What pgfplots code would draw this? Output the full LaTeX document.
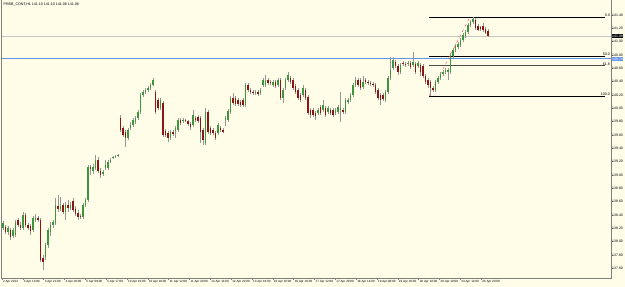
\documentclass[border=0pt]{standalone}
\usepackage{pgfplots}
\usepackage{pgfplotstable}
\pgfplotsset{compat=1.18}
\usepackage{fontspec}
\setmainfont{Liberation Sans}
\definecolor{bg}{RGB}{255,253,232}
\definecolor{bull}{RGB}{60,150,60}
\definecolor{bear}{RGB}{140,22,22}
\definecolor{wick}{RGB}{150,150,150}
\definecolor{fibblue}{RGB}{100,149,237}
\definecolor{axgray}{RGB}{128,128,128}

\pgfplotstableread{
i o h l c
0 138.205 138.310 138.175 138.280
1 138.220 138.250 138.115 138.145
2 138.145 138.235 138.100 138.205
3 138.175 138.205 138.025 138.070
4 138.085 138.205 138.055 138.175
5 138.100 138.325 138.070 138.295
6 138.325 138.355 138.220 138.250
7 138.250 138.295 138.175 138.205
8 138.205 138.445 138.175 138.400
9 138.400 138.430 138.220 138.250
10 138.250 138.280 138.175 138.205
11 138.235 138.265 138.100 138.160
12 138.175 138.385 138.145 138.355
13 138.325 138.415 138.295 138.355
14 138.355 138.385 138.295 138.325
15 138.325 138.355 137.695 137.725
16 137.755 137.800 137.575 137.695
17 137.770 137.980 137.725 137.950
18 137.950 138.205 137.905 138.175
19 138.145 138.295 138.085 138.250
20 138.250 138.325 138.205 138.295
21 138.280 138.655 138.250 138.550
22 138.535 138.700 138.445 138.490
23 138.490 138.670 138.460 138.535
24 138.550 138.580 138.415 138.445
25 138.445 138.595 138.325 138.550
26 138.550 138.625 138.445 138.505
27 138.505 138.595 138.475 138.550
28 138.610 138.655 138.445 138.475
29 138.490 138.535 138.385 138.415
30 138.430 138.475 138.325 138.370
31 138.385 138.415 138.340 138.370
32 138.370 138.580 138.340 138.550
33 138.550 138.655 138.520 138.625
34 138.625 139.150 138.595 139.120
35 139.120 139.150 139.000 139.090
36 139.060 139.165 139.015 139.120
37 139.105 139.300 139.075 139.225
38 139.225 139.270 139.030 139.060
39 139.060 139.105 138.955 139.000
40 139.015 139.075 138.985 139.045
41 139.105 139.225 139.075 139.150
42 139.105 139.225 139.075 139.195
43 139.195 139.255 139.180 139.225
44 139.255 139.285 139.240 139.270
45 139.270 139.300 139.255 139.285
46 139.285 139.315 139.270 139.300
47 139.855 139.900 139.645 139.675
48 139.705 139.735 139.570 139.600
49 139.645 139.675 139.420 139.555
50 139.555 139.705 139.525 139.675
51 139.705 139.795 139.675 139.750
52 139.750 139.855 139.720 139.825
53 139.795 139.885 139.765 139.855
54 139.855 139.975 139.825 139.945
55 139.945 140.230 139.915 140.200
56 140.200 140.275 140.170 140.245
57 140.245 140.305 140.215 140.275
58 140.275 140.335 140.245 140.305
59 140.305 140.380 140.275 140.350
60 140.350 140.455 140.335 140.425
61 140.245 140.275 139.915 139.945
62 140.125 140.155 139.975 140.005
63 140.005 140.155 139.975 140.125
64 140.080 140.110 139.570 139.600
65 139.660 139.690 139.570 139.600
66 139.630 139.660 139.495 139.555
67 139.555 139.675 139.525 139.645
68 139.645 139.675 139.585 139.615
69 139.660 139.735 139.555 139.705
70 139.675 139.855 139.645 139.825
71 139.825 139.855 139.750 139.780
72 139.810 139.855 139.780 139.825
73 139.825 139.840 139.795 139.810
74 139.810 139.825 139.735 139.765
75 139.765 139.795 139.675 139.720
76 139.750 139.975 139.720 139.900
77 139.855 139.885 139.795 139.825
78 139.870 139.900 139.780 139.810
79 139.855 139.885 139.480 139.645
80 139.675 139.705 139.450 139.525
81 139.480 140.005 139.450 139.945
82 139.945 139.975 139.615 139.645
83 139.705 139.735 139.600 139.630
84 139.675 139.705 139.600 139.630
85 139.630 139.660 139.525 139.555
86 139.630 139.780 139.600 139.750
87 139.705 139.735 139.645 139.675
88 139.675 139.705 139.630 139.645
89 139.825 139.885 139.735 139.855
90 139.825 139.990 139.795 139.960
91 139.945 140.185 139.915 140.155
92 140.155 140.230 140.050 140.080
93 140.155 140.185 140.035 140.065
94 140.125 140.155 140.035 140.065
95 140.095 140.125 140.020 140.050
96 140.125 140.155 140.020 140.050
97 140.050 140.380 140.020 140.350
98 140.350 140.380 140.245 140.275
99 140.275 140.305 140.215 140.245
100 140.245 140.275 140.200 140.230
101 140.230 140.275 140.200 140.245
102 140.245 140.275 140.185 140.215
103 140.230 140.305 140.200 140.275
104 140.350 140.455 140.320 140.425
105 140.350 140.500 140.320 140.425
106 140.425 140.455 140.350 140.380
107 140.395 140.425 140.350 140.380
108 140.350 140.425 140.320 140.395
109 140.395 140.425 140.305 140.335
110 140.350 140.455 140.320 140.425
111 140.425 140.455 140.125 140.155
112 140.155 140.305 140.080 140.275
113 140.305 140.455 140.275 140.425
114 140.425 140.545 140.395 140.500
115 140.455 140.485 140.365 140.395
116 140.425 140.455 140.275 140.305
117 140.335 140.365 140.215 140.245
118 140.275 140.305 140.125 140.155
119 140.200 140.230 140.095 140.125
120 140.200 140.350 140.170 140.305
121 140.275 140.305 140.125 140.155
122 140.170 140.200 139.900 139.930
123 139.975 140.005 139.855 139.900
124 139.975 140.005 139.870 139.900
125 139.930 139.960 139.825 139.885
126 139.930 140.005 139.900 139.975
127 140.020 140.050 139.900 139.930
128 139.975 140.125 139.945 140.050
129 140.005 140.035 139.870 139.900
130 139.945 140.035 139.915 140.005
131 139.975 140.005 139.900 139.930
132 139.975 140.005 139.870 139.900
133 139.930 140.005 139.900 139.975
134 139.945 140.050 139.915 140.020
135 139.975 140.245 139.795 140.005
136 139.975 140.005 139.915 139.945
137 139.945 140.155 139.915 140.125
138 140.095 140.155 140.065 140.125
139 140.125 140.230 140.095 140.200
140 140.200 140.380 140.170 140.350
141 140.350 140.470 140.320 140.425
142 140.425 140.455 140.320 140.350
143 140.425 140.455 140.275 140.305
144 140.320 140.485 140.290 140.395
145 140.425 140.455 140.365 140.395
146 140.395 140.425 140.350 140.380
147 140.380 140.410 140.335 140.365
148 140.365 140.395 140.320 140.350
149 140.350 140.380 140.215 140.245
150 140.275 140.305 140.125 140.155
151 140.200 140.230 140.050 140.125
152 140.200 140.230 140.110 140.140
153 140.125 140.275 140.095 140.245
154 140.245 140.485 140.215 140.455
155 140.455 140.770 140.425 140.575
156 140.605 140.770 140.575 140.725
157 140.695 140.725 140.605 140.635
158 140.635 140.665 140.500 140.545
159 140.545 140.680 140.515 140.650
160 140.680 140.710 140.635 140.665
161 140.665 140.695 140.620 140.650
162 140.665 140.710 140.635 140.680
163 140.680 140.710 140.590 140.620
164 140.650 140.845 140.620 140.695
165 140.665 140.695 140.515 140.545
166 140.635 140.710 140.605 140.680
167 140.650 140.680 140.485 140.545
168 140.635 140.665 140.455 140.485
169 140.485 140.515 140.365 140.395
170 140.425 140.455 140.305 140.350
171 140.395 140.425 140.185 140.305
172 140.305 140.335 140.245 140.275
173 140.275 140.425 140.245 140.395
174 140.395 140.485 140.365 140.455
175 140.455 140.545 140.425 140.515
176 140.515 140.575 140.485 140.545
177 140.545 140.605 140.515 140.575
178 140.545 140.605 140.425 140.575
179 140.545 140.830 140.515 140.800
180 140.785 140.905 140.755 140.875
181 140.875 140.965 140.845 140.935
182 140.920 140.995 140.890 140.965
183 140.950 141.055 140.920 141.025
184 141.025 141.130 140.995 141.100
185 141.085 141.175 141.055 141.145
186 141.145 141.280 141.115 141.250
187 141.250 141.325 141.220 141.295
188 141.295 141.370 141.265 141.340
189 141.325 141.355 141.175 141.205
190 141.235 141.265 141.160 141.175
191 141.220 141.235 141.160 141.190
192 141.235 141.280 141.145 141.175
193 141.190 141.220 141.115 141.130
194 141.160 141.190 141.070 141.085
}\candles

\begin{document}
\begin{tikzpicture}
\useasboundingbox (0,0) rectangle (625pt,287pt);
\fill[bg] (0,0) rectangle (625pt,287pt);
\begin{axis}[
  at={(1.5pt,9pt)}, anchor=south west,
  scale only axis, width=609.5pt, height=276pt,
  xmin=-0.6, xmax=243.2, ymin=137.455, ymax=141.595,
  clip=false,
  axis line style={draw=none},
  /pgf/number format/assume math mode=true,
  ytick={137.6,137.8,138.0,138.2,138.4,138.6,138.8,139.0,139.2,139.4,139.6,139.8,140.0,140.2,140.4,140.6,140.8,141.0,141.2,141.4},
  yticklabel pos=right, ytick pos=right,
  yticklabel style={font=\fontsize{3.5}{4}\selectfont, anchor=west, inner sep=0pt, xshift=-1pt,
     /pgf/number format/.cd, fixed, fixed zerofill, precision=2, 1000 sep={}},
  xtick={-0.4,7.93,16.27,24.6,32.93,41.27,49.6,57.93,66.27,74.6,82.93,91.27,99.6,107.93,116.27,124.6,132.93,141.27,149.6,157.93,166.27,174.6,182.93,191.27},
  xticklabels={2 Apr 2012,3 Apr 13:00,3 Apr 21:00,4 Apr 18:00,5 Apr 09:00,5 Apr 17:00,10 Apr 10:00,10 Apr 18:00,11 Apr 12:00,11 Apr 20:00,12 Apr 14:00,12 Apr 22:00,13 Apr 16:00,16 Apr 10:00,16 Apr 18:00,17 Apr 12:00,17 Apr 20:00,18 Apr 14:00,19 Apr 08:00,19 Apr 16:00,20 Apr 10:00,20 Apr 18:00,23 Apr 12:00,23 Apr 20:00},
  xtick pos=bottom,
  xticklabel style={font=\fontsize{3.05}{4}\selectfont, anchor=north west, inner sep=0.4pt, xshift=0.5pt, yshift=0.5pt},
  tick align=outside, major tick length=2pt,
  tick style={axgray, line width=0.4pt},
]
% current price line and horizontal blue line
\addplot[gray!45, line width=0.5pt, forget plot] coordinates {(-0.6,141.085) (243.2,141.085)};
\addplot[fibblue, line width=1.0pt, forget plot] coordinates {(-0.6,140.740) (243.2,140.740)};
% fibonacci levels
\addplot[black, line width=0.8pt, forget plot] coordinates {(170.4,141.370) (240.8,141.370)};
\addplot[black, line width=0.8pt, forget plot] coordinates {(170.4,140.778) (240.8,140.778)};
\addplot[black!70, line width=0.8pt, forget plot] coordinates {(170.4,140.638) (240.8,140.638)};
\addplot[black, line width=0.8pt, forget plot] coordinates {(170.4,140.185) (240.8,140.185)};
\addplot[red!70, dashed, line width=0.4pt, forget plot] coordinates {(170.4,140.185) (186.8,141.370)};
% wicks
\addplot[draw=none, no markers, forget plot,
  error bars/.cd, y dir=both, y explicit, error mark=none,
  error bar style={draw=wick, line width=0.55pt}]
  table[x=i, y=o, y error plus expr=\thisrow{h}-\thisrow{o}, y error minus expr=\thisrow{o}-\thisrow{l}] {\candles};
% bull bodies
\addplot[draw=none, no markers, forget plot,
  restrict expr to domain={\thisrow{c}-\thisrow{o}}{0:10},
  error bars/.cd, y dir=plus, y explicit, error mark=none,
  error bar style={draw=bull, line width=1.6pt}]
  table[x=i, y=o, y error plus expr={max(\thisrow{c}-\thisrow{o},0.008)}] {\candles};
% bear bodies
\addplot[draw=none, no markers, forget plot,
  restrict expr to domain={\thisrow{o}-\thisrow{c}}{0.0001:10},
  error bars/.cd, y dir=minus, y explicit, error mark=none,
  error bar style={draw=bear, line width=1.6pt}]
  table[x=i, y=o, y error minus expr={max(\thisrow{o}-\thisrow{c},0.008)}] {\candles};
% fib labels
\node[anchor=south east, inner sep=0.3pt, font=\fontsize{3.6}{4}\selectfont] at (axis cs:243,141.370) {0.0};
\node[anchor=south east, inner sep=0.3pt, font=\fontsize{3.6}{4}\selectfont] at (axis cs:243,140.778) {50.0};
\node[anchor=south east, inner sep=0.3pt, font=\fontsize{3.6}{4}\selectfont] at (axis cs:243,140.638) {61.8};
\node[anchor=south east, inner sep=0.3pt, font=\fontsize{3.6}{4}\selectfont] at (axis cs:243,140.185) {100.0};
% price boxes on the right
\node[anchor=west, fill=black, text=white, inner sep=0.5pt, font=\fontsize{3.5}{4}\selectfont] at (axis cs:243.4,141.085) {141.08};
\node[anchor=west, fill=fibblue, text=white, inner sep=0.5pt, font=\fontsize{3.5}{4}\selectfont] at (axis cs:243.4,140.740) {140.74};
% title
\node[anchor=north west, inner sep=0pt, font=\fontsize{3.6}{4}\selectfont] at ([xshift=2pt,yshift=-1pt]rel axis cs:0,1) {PRBB\_CONT,H1 141.10 141.10 141.08 141.08};
\end{axis}
\draw[axgray, line width=0.6pt] (1.5pt,287pt) -- (1.5pt,9pt) -- (611pt,9pt) -- (611pt,287pt);
\end{tikzpicture}
\end{document}
